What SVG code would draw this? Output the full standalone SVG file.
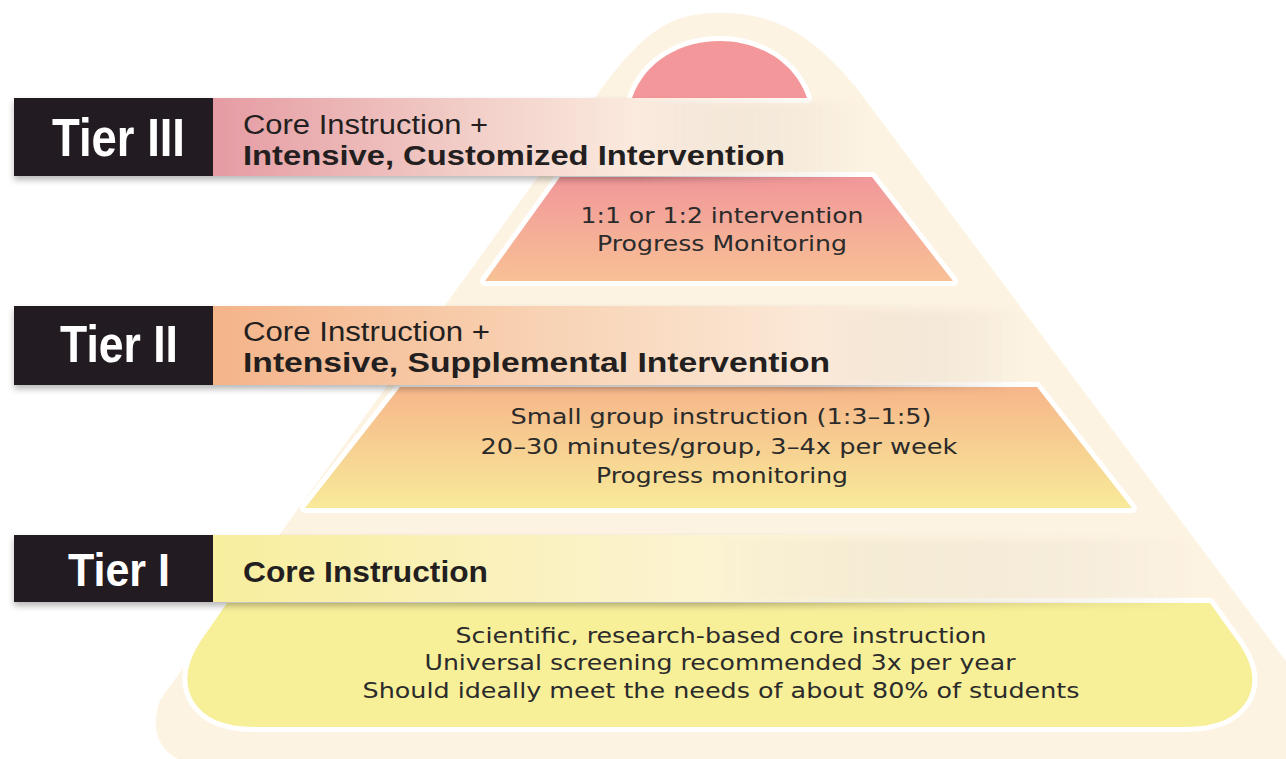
<svg xmlns="http://www.w3.org/2000/svg" width="1286" height="759" viewBox="0 0 1286 759">
<style>
.band{stroke:#ffffff;stroke-width:10;stroke-linejoin:round;paint-order:stroke}
.lbl{font-family:"Liberation Sans",Arial,sans-serif;font-weight:bold;fill:#ffffff}
.hd{font-family:"Liberation Sans",Arial,sans-serif;fill:#231f20}
.hdb{font-family:"Liberation Sans",Arial,sans-serif;font-weight:bold;fill:#231f20}
.body{font-family:"DejaVu Sans","Liberation Sans",sans-serif;font-size:22px;fill:#2b2b2b;text-anchor:middle}
</style>
<defs>
<filter id="sh" x="-5%" y="-20%" width="110%" height="160%">
<feDropShadow dx="0" dy="4" stdDeviation="3" flood-color="#000" flood-opacity="0.28"/>
</filter>
<linearGradient id="g3bar" x1="213" y1="0" x2="865" y2="0" gradientUnits="userSpaceOnUse">
<stop offset="0" stop-color="#e59ba3"/>
<stop offset="0.4" stop-color="#f2cfc8"/>
<stop offset="0.65" stop-color="#fbeade"/>
<stop offset="1" stop-color="#fdf3e2" stop-opacity="0"/>
</linearGradient>
<linearGradient id="g2bar" x1="213" y1="0" x2="1024" y2="0" gradientUnits="userSpaceOnUse">
<stop offset="0" stop-color="#f4b48a"/>
<stop offset="0.4" stop-color="#f8d2b3"/>
<stop offset="0.75" stop-color="#fbe9d8"/>
<stop offset="1" stop-color="#fdf3e2" stop-opacity="0"/>
</linearGradient>
<linearGradient id="g1bar" x1="213" y1="0" x2="1200" y2="0" gradientUnits="userSpaceOnUse">
<stop offset="0" stop-color="#f8ee9e"/>
<stop offset="0.5" stop-color="#fcf3d2"/>
<stop offset="1" stop-color="#fdf3e2" stop-opacity="0"/>
</linearGradient>
<linearGradient id="g3band" x1="0" y1="177" x2="0" y2="281" gradientUnits="userSpaceOnUse">
<stop offset="0" stop-color="#f1979a"/>
<stop offset="1" stop-color="#f8c195"/>
</linearGradient>
<linearGradient id="g2band" x1="0" y1="387" x2="0" y2="508" gradientUnits="userSpaceOnUse">
<stop offset="0" stop-color="#f6b68a"/>
<stop offset="1" stop-color="#f8ea99"/>
</linearGradient>
</defs>

<g id="pyramid-bg">
<path d="M 160,700 L 597,95 C 650,20 680,13 722,13 C 770,13 810,30 858,90 L 1330,720 L 1330,770 L 215,770 Q 140,760 160,700 Z" fill="#fdf3e2"/>
</g>

<g id="tier3-dome">
<path class="band" d="M 632,98 C 658,22 781,22 807,98 Z" fill="#f4979a"/>
</g>

<g id="tier3-band">
<path class="band" d="M 560,177 L 872,177 L 953,281 L 485,281 Z" fill="url(#g3band)"/>
<text class="body" x="722" y="223" textLength="283" lengthAdjust="spacingAndGlyphs">1:1 or 1:2 intervention</text>
<text class="body" x="722" y="251" textLength="250" lengthAdjust="spacingAndGlyphs">Progress Monitoring</text>
</g>

<g id="tier2-band">
<path class="band" d="M 400,387 L 1037,387 L 1132,508 L 305,508 Z" fill="url(#g2band)"/>
<text class="body" x="721" y="424" textLength="421" lengthAdjust="spacingAndGlyphs">Small group instruction (1:3–1:5)</text>
<text class="body" x="719" y="454" textLength="477" lengthAdjust="spacingAndGlyphs">20–30 minutes/group, 3–4x per week</text>
<text class="body" x="722" y="483" textLength="252" lengthAdjust="spacingAndGlyphs">Progress monitoring</text>
</g>

<g id="tier1-band">
<path class="band" d="M 227,603 L 1210,603 L 1238,642 Q 1262,676 1246,702 Q 1230,727 1186,727 L 254,727 Q 210,727 194,702 Q 178,676 200,642 Z" fill="#f8ef99"/>
<text class="body" x="721" y="643" textLength="531" lengthAdjust="spacingAndGlyphs">Scientific, research-based core instruction</text>
<text class="body" x="720" y="670" textLength="591" lengthAdjust="spacingAndGlyphs">Universal screening recommended 3x per year</text>
<text class="body" x="721" y="698" textLength="717" lengthAdjust="spacingAndGlyphs">Should ideally meet the needs of about 80% of students</text>
</g>

<g id="tier3-header">
<g filter="url(#sh)">
<rect x="213" y="98" width="652" height="78" fill="url(#g3bar)"/>
<rect x="14" y="98" width="199" height="78" fill="#231f20"/>
</g>
<text class="lbl" x="52" y="156" font-size="54" textLength="133" lengthAdjust="spacingAndGlyphs">Tier III</text>
<text class="hd" x="243" y="134" font-size="27" textLength="245" lengthAdjust="spacingAndGlyphs">Core Instruction +</text>
<text class="hdb" x="243" y="165" font-size="27.5" textLength="542" lengthAdjust="spacingAndGlyphs">Intensive, Customized Intervention</text>
</g>

<g id="tier2-header">
<g filter="url(#sh)">
<rect x="213" y="306" width="811" height="79" fill="url(#g2bar)"/>
<rect x="14" y="306" width="199" height="79" fill="#231f20"/>
</g>
<text class="lbl" x="60" y="362" font-size="52" textLength="118" lengthAdjust="spacingAndGlyphs">Tier II</text>
<text class="hd" x="243" y="341" font-size="27" textLength="247" lengthAdjust="spacingAndGlyphs">Core Instruction +</text>
<text class="hdb" x="243" y="372" font-size="27.5" textLength="587" lengthAdjust="spacingAndGlyphs">Intensive, Supplemental Intervention</text>
</g>

<g id="tier1-header">
<g filter="url(#sh)">
<rect x="213" y="535" width="987" height="67" fill="url(#g1bar)"/>
<rect x="14" y="535" width="199" height="67" fill="#231f20"/>
</g>
<text class="lbl" x="68" y="586" font-size="47" textLength="102" lengthAdjust="spacingAndGlyphs">Tier I</text>
<text class="hdb" x="243" y="582" font-size="30" textLength="245" lengthAdjust="spacingAndGlyphs">Core Instruction</text>
</g>
</svg>
